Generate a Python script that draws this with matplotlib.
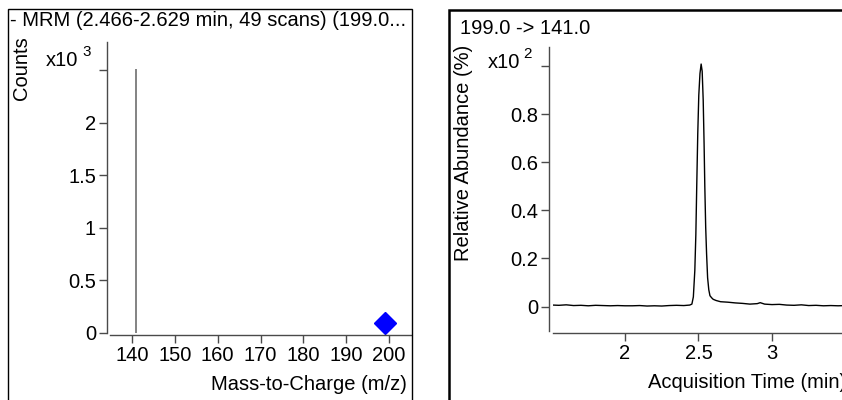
import matplotlib
matplotlib.use("Agg")
import matplotlib.pyplot as plt
from matplotlib.patches import Rectangle
from matplotlib.ticker import FixedLocator, FixedFormatter

plt.rcParams['font.family'] = ['Liberation Sans', 'DejaVu Sans']

# product ion spectrum (m/z, counts)
ion_mz = [141.0]
ion_counts = [2510]
precursor_mz = 199.0
precursor_mark = 92

# extracted ion chromatogram 199.0 -> 141.0 (time in min, abundance in %)
eic_time = [1.51, 1.55, 1.60, 1.65, 1.70, 1.75, 1.80, 1.85, 1.90, 1.95,
            2.00, 2.05, 2.10, 2.15, 2.20, 2.25, 2.30, 2.35, 2.40, 2.44,
            2.455, 2.465, 2.475, 2.482, 2.488, 2.495, 2.502, 2.51, 2.518, 2.525,
            2.532, 2.538, 2.543, 2.549, 2.555, 2.562, 2.57, 2.578, 2.59, 2.60,
            2.62, 2.65, 2.70, 2.75, 2.80, 2.85, 2.90, 2.92, 2.95, 3.00,
            3.05, 3.10, 3.15, 3.20, 3.25, 3.30, 3.35, 3.40, 3.45, 3.50,
            3.55, 3.60, 3.65]
eic_abund = [0.6, 0.5, 0.7, 0.4, 0.5, 0.3, 0.5, 0.4, 0.3, 0.4,
             0.3, 0.3, 0.4, 0.2, 0.3, 0.2, 0.4, 0.5, 0.4, 0.6,
             1.0, 4.0, 15.0, 30.0, 50.0, 72.0, 88.0, 97.0, 101.0, 98.0,
             86.0, 68.0, 50.0, 33.0, 22.0, 12.0, 7.0, 4.5, 3.6, 3.0,
             2.5, 2.0, 1.8, 1.5, 1.3, 1.0, 1.2, 1.6, 1.0, 0.8,
             0.9, 0.6, 0.5, 0.7, 0.4, 0.5, 0.3, 0.4, 0.3, 0.4,
             0.3, 0.4, 0.3]

W, H = 842, 400
fig = plt.figure(figsize=(W / 100, H / 100), dpi=100)


def fx(px):
    return px / W


def fy(py):
    return 1 - py / H


def axes_px(left, top, right, bottom):
    return fig.add_axes([fx(left), fy(bottom), (right - left) / W, (bottom - top) / H])


axis_col = '#4a4a4a'
fs = 14.5

# panel frames
fig.patches.append(Rectangle((fx(8), fy(420)), (412 - 8) / W, (420 - 9) / H,
                             transform=fig.transFigure, fill=False, ec='black', lw=1.0))
fig.patches.append(Rectangle((fx(449), fy(420)), (900 - 449) / W, (420 - 10) / H,
                             transform=fig.transFigure, fill=False, ec='black', lw=1.8))


def style(ax, left_out, bottom_out):
    for s in ['top', 'right']:
        ax.spines[s].set_visible(False)
    ax.spines['left'].set_position(('outward', left_out * 0.72))
    ax.spines['bottom'].set_position(('outward', bottom_out * 0.72))
    for s in ['left', 'bottom']:
        ax.spines[s].set_color(axis_col)
        ax.spines[s].set_linewidth(1.0)
    ax.tick_params(direction='out', length=5.5, width=1.0, color=axis_col,
                   labelsize=fs, pad=2.5)
    ax.patch.set_alpha(0)


# left: spectrum
ax1 = axes_px(110, 42, 411, 333)
ax1.set_xlim(134.9, 205.1)
ax1.set_ylim(0, 2.77)
style(ax1, 3, 2)
ax1.vlines(ion_mz, 0, [c / 1000 for c in ion_counts], color='#7a7a7a', lw=1.3)
ax1.plot([precursor_mz], [precursor_mark / 1000], marker='D', ms=11, color='#0000ff',
         ls='none', clip_on=False)
ax1.xaxis.set_major_locator(FixedLocator([140, 150, 160, 170, 180, 190, 200]))
ax1.yaxis.set_major_locator(FixedLocator([0, 0.5, 1, 1.5, 2, 2.5]))
ax1.yaxis.set_major_formatter(FixedFormatter(['0', '0.5', '1', '1.5', '2', '']))

fig.text(fx(10), fy(21), '- MRM (2.466-2.629 min, 49 scans) (199.0...', fontsize=fs,
         ha='left', va='center')
fig.text(fx(21), fy(68), 'Counts', fontsize=fs, rotation=90, ha='center', va='center')
fig.text(fx(46), fy(60), 'x10', fontsize=fs, ha='left', va='center')
fig.text(fx(82), fy(52), '3', fontsize=fs * 0.75, ha='left', va='center')
fig.text(fx(407), fy(384), 'Mass-to-Charge (m/z)', fontsize=fs, ha='right', va='center')

# right: chromatogram
ax2 = axes_px(553, 47, 870, 331)
ax2.set_xlim(1.51, 3.667)
ax2.set_ylim(-0.102, 1.081)
style(ax2, 4, 2)
ax2.plot(eic_time, [a / 100 for a in eic_abund], color='black', lw=1.0)
ax2.xaxis.set_major_locator(FixedLocator([2, 2.5, 3]))
ax2.xaxis.set_major_formatter(FixedFormatter(['2', '2.5', '3']))
ax2.yaxis.set_major_locator(FixedLocator([0, 0.2, 0.4, 0.6, 0.8, 1.0]))
ax2.yaxis.set_major_formatter(FixedFormatter(['0', '0.2', '0.4', '0.6', '0.8', '']))

fig.text(fx(460), fy(28), '199.0 -> 141.0', fontsize=fs, ha='left', va='center')
fig.text(fx(464), fy(153), 'Relative Abundance (%)', fontsize=fs, rotation=90,
         ha='center', va='center')
fig.text(fx(488), fy(62), 'x10', fontsize=fs, ha='left', va='center')
fig.text(fx(523), fy(54), '2', fontsize=fs * 0.75, ha='left', va='center')
fig.text(fx(648), fy(383), 'Acquisition Time (min)', fontsize=fs, ha='left', va='center')

fig.savefig('out.png', dpi=100)
